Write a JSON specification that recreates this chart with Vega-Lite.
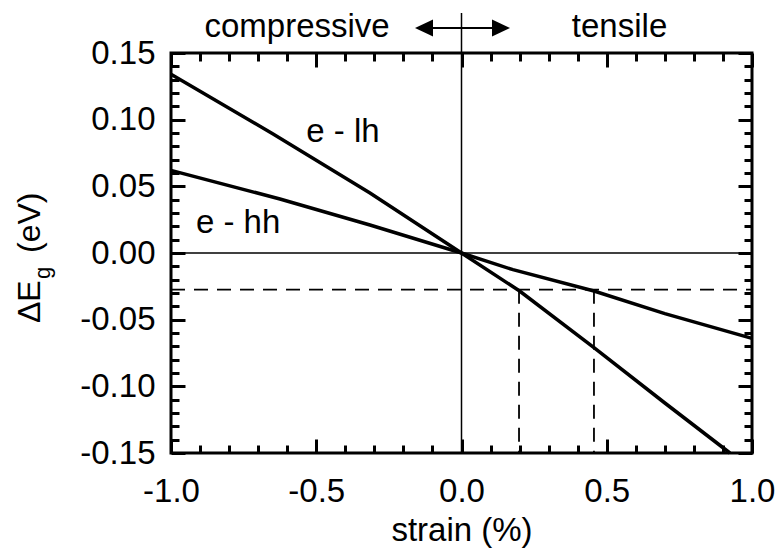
{
  "$schema": "https://vega.github.io/schema/vega-lite/v6.json",
  "width": 581,
  "height": 400,
  "autosize": "none",
  "padding": {"left": 171, "top": 53, "right": 25, "bottom": 96},
  "background": "white",
  "config": {
    "view": {"stroke": "black", "strokeWidth": 3},
    "axis": {
      "domain": false, "grid": false, "zindex": 1,
      "labelFont": "Liberation Sans", "labelFontSize": 33, "labelColor": "black",
      "labelFlush": false, "labelOverlap": false, "labelBound": false,
      "tickColor": "black", "tickWidth": 3,
      "titleFont": "Liberation Sans", "titleFontSize": 33, "titleFontWeight": "normal", "titleColor": "black"
    },
    "text": {"font": "Liberation Sans", "fontSize": 33, "color": "black"}
  },
  "datasets": {
    "curves": [
      {"series": "e-lh", "x": -1.0, "y": 0.134},
      {"series": "e-lh", "x": -0.65, "y": 0.0895},
      {"series": "e-lh", "x": -0.315, "y": 0.045},
      {"series": "e-lh", "x": 0.0, "y": 0.0},
      {"series": "e-lh", "x": 0.2, "y": -0.0285},
      {"series": "e-lh", "x": 0.456, "y": -0.071},
      {"series": "e-lh", "x": 0.7, "y": -0.1125},
      {"series": "e-lh", "x": 0.924, "y": -0.15},
      {"series": "e-hh", "x": -1.0, "y": 0.062},
      {"series": "e-hh", "x": -0.625, "y": 0.0405},
      {"series": "e-hh", "x": -0.315, "y": 0.021},
      {"series": "e-hh", "x": 0.0, "y": 0.0},
      {"series": "e-hh", "x": 0.177, "y": -0.0125},
      {"series": "e-hh", "x": 0.456, "y": -0.0285},
      {"series": "e-hh", "x": 0.7, "y": -0.0455},
      {"series": "e-hh", "x": 1.0, "y": -0.064}
    ],
    "refs": [
      {"id": "h0", "x": -1.0, "y": 0.0},
      {"id": "h0", "x": 1.0, "y": 0.0},
      {"id": "v0", "x": 0.0, "y": -0.15},
      {"id": "v0", "x": 0.0, "y": 0.18}
    ],
    "dashed": [
      {"id": "h", "x": -1.0, "y": -0.0275},
      {"id": "h", "x": 1.0, "y": -0.0275},
      {"id": "v1", "x": 0.198, "y": -0.0275},
      {"id": "v1", "x": 0.198, "y": -0.15},
      {"id": "v2", "x": 0.456, "y": -0.0275},
      {"id": "v2", "x": 0.456, "y": -0.15}
    ],
    "arrow": [
      {"x": -0.135, "y": 0.1688},
      {"x": 0.14, "y": 0.1688}
    ],
    "heads": [
      {"dir": "left", "x": -0.129, "y": 0.1688},
      {"dir": "right", "x": 0.136, "y": 0.1688}
    ],
    "labels": [
      {"text": "e - lh", "x": -0.408, "y": 0.0833},
      {"text": "e - hh", "x": -0.769, "y": 0.015},
      {"text": "compressive", "x": -0.566, "y": 0.162},
      {"text": "tensile", "x": 0.544, "y": 0.162}
    ],
    "ytitle": [
      {"text": "ΔE", "x": -1.451, "y": -0.0525},
      {"text": "(eV)", "x": -1.451, "y": 0.0}
    ],
    "ysub": [
      {"text": "g", "x": -1.417, "y": -0.0195}
    ]
  },
  "layer": [
    {
      "data": {"name": "curves"},
      "mark": {"type": "line", "color": "black", "strokeWidth": 3.5},
      "encoding": {
        "x": {"field": "x", "type": "quantitative",
          "scale": {"domain": [-1, 1], "nice": false, "zero": false},
          "axis": {"orient": "bottom", "offset": 0, "values": [-1, -0.5, 0, 0.5, 1], "tickSize": -14,
            "labelExpr": "replace(format(datum.value, '.1f'), '\u2212', '-')",
            "labelPadding": 36, "title": "strain (%)", "titlePadding": 6}},
        "y": {"field": "y", "type": "quantitative",
          "scale": {"domain": [-0.15, 0.15], "nice": false, "zero": false},
          "axis": {"orient": "left", "offset": 0, "values": [-0.15, -0.1, -0.05, 0, 0.05, 0.1, 0.15], "tickSize": -14,
            "labelExpr": "replace(format(datum.value, '.2f'), '\u2212', '-')",
            "labelPadding": 30, "title": null}},
        "detail": {"field": "series", "type": "nominal"}
      }
    },
    {
      "data": {"name": "refs"},
      "mark": {"type": "line", "color": "black", "strokeWidth": 1.5},
      "encoding": {
        "x": {"field": "x", "type": "quantitative",
          "scale": {"domain": [-1, 1], "nice": false, "zero": false},
          "axis": {"orient": "bottom", "offset": 0, "values": [-0.9, -0.8, -0.7, -0.6, -0.4, -0.3, -0.2, -0.1, 0.1, 0.2, 0.3, 0.4, 0.6, 0.7, 0.8, 0.9],
            "tickSize": -8, "labels": false, "title": null}},
        "y": {"field": "y", "type": "quantitative",
          "scale": {"domain": [-0.15, 0.15], "nice": false, "zero": false},
          "axis": {"orient": "left", "offset": 0, "values": [-0.14, -0.13, -0.12, -0.11, -0.09, -0.08, -0.07, -0.06, -0.04, -0.03, -0.02, -0.01, 0.01, 0.02, 0.03, 0.04, 0.06, 0.07, 0.08, 0.09, 0.11, 0.12, 0.13, 0.14],
            "tickSize": -8, "labels": false, "title": null}},
        "detail": {"field": "id", "type": "nominal"}
      }
    },
    {
      "data": {"name": "dashed"},
      "mark": {"type": "line", "color": "black", "strokeWidth": 1.8, "strokeDash": [14, 9]},
      "encoding": {
        "x": {"field": "x", "type": "quantitative",
          "scale": {"domain": [-1, 1], "nice": false, "zero": false},
          "axis": {"orient": "top", "offset": 0, "values": [-1, -0.5, 0, 0.5, 1], "tickSize": -14, "labels": false, "title": null}},
        "y": {"field": "y", "type": "quantitative",
          "scale": {"domain": [-0.15, 0.15], "nice": false, "zero": false},
          "axis": {"orient": "right", "offset": 0, "values": [-0.15, -0.1, -0.05, 0, 0.05, 0.1, 0.15], "tickSize": -14, "labels": false, "title": null}},
        "detail": {"field": "id", "type": "nominal"}
      }
    },
    {
      "data": {"name": "arrow"},
      "mark": {"type": "line", "color": "black", "strokeWidth": 2},
      "encoding": {
        "x": {"field": "x", "type": "quantitative",
          "scale": {"domain": [-1, 1], "nice": false, "zero": false},
          "axis": {"orient": "top", "offset": 0, "values": [-0.9, -0.8, -0.7, -0.6, -0.4, -0.3, -0.2, -0.1, 0.1, 0.2, 0.3, 0.4, 0.6, 0.7, 0.8, 0.9],
            "tickSize": -8, "labels": false, "title": null}},
        "y": {"field": "y", "type": "quantitative",
          "scale": {"domain": [-0.15, 0.15], "nice": false, "zero": false},
          "axis": {"orient": "right", "offset": 0, "values": [-0.14, -0.13, -0.12, -0.11, -0.09, -0.08, -0.07, -0.06, -0.04, -0.03, -0.02, -0.01, 0.01, 0.02, 0.03, 0.04, 0.06, 0.07, 0.08, 0.09, 0.11, 0.12, 0.13, 0.14],
            "tickSize": -8, "labels": false, "title": null}}
      }
    },
    {
      "data": {"name": "heads"},
      "mark": {"type": "point", "filled": true, "color": "black", "opacity": 1, "size": 324},
      "encoding": {
        "x": {"field": "x", "type": "quantitative", "scale": {"domain": [-1, 1], "nice": false, "zero": false}, "axis": null},
        "y": {"field": "y", "type": "quantitative", "scale": {"domain": [-0.15, 0.15], "nice": false, "zero": false}, "axis": null},
        "shape": {"field": "dir", "type": "nominal",
          "scale": {"domain": ["left", "right"], "range": ["M-1,0L1,-0.95L1,0.95Z", "M1,0L-1,-0.95L-1,0.95Z"]},
          "legend": null}
      }
    },
    {
      "data": {"name": "labels"},
      "mark": {"type": "text", "align": "center", "baseline": "alphabetic", "fontSize": 33},
      "encoding": {
        "x": {"field": "x", "type": "quantitative", "scale": {"domain": [-1, 1], "nice": false, "zero": false}, "axis": null},
        "y": {"field": "y", "type": "quantitative", "scale": {"domain": [-0.15, 0.15], "nice": false, "zero": false}, "axis": null},
        "text": {"field": "text"}
      }
    },
    {
      "data": {"name": "ytitle"},
      "mark": {"type": "text", "align": "left", "baseline": "alphabetic", "angle": 270, "fontSize": 32},
      "encoding": {
        "x": {"field": "x", "type": "quantitative", "scale": {"domain": [-1, 1], "nice": false, "zero": false}, "axis": null},
        "y": {"field": "y", "type": "quantitative", "scale": {"domain": [-0.15, 0.15], "nice": false, "zero": false}, "axis": null},
        "text": {"field": "text"}
      }
    },
    {
      "data": {"name": "ysub"},
      "mark": {"type": "text", "align": "left", "baseline": "alphabetic", "angle": 270, "fontSize": 22},
      "encoding": {
        "x": {"field": "x", "type": "quantitative", "scale": {"domain": [-1, 1], "nice": false, "zero": false}, "axis": null},
        "y": {"field": "y", "type": "quantitative", "scale": {"domain": [-0.15, 0.15], "nice": false, "zero": false}, "axis": null},
        "text": {"field": "text"}
      }
    }
  ],
  "resolve": {"axis": {"x": "independent", "y": "independent"}}
}
